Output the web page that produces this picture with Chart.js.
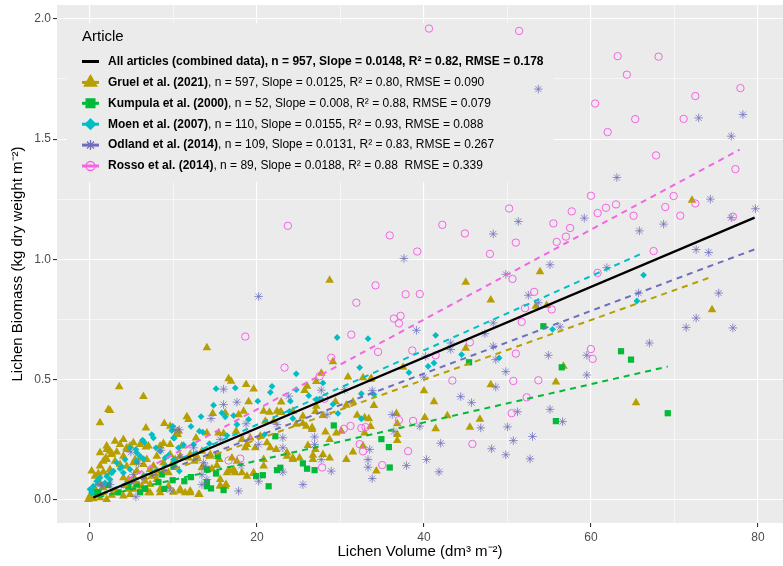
<!DOCTYPE html>
<html>
<head>
<meta charset="utf-8">
<title>Lichen volume vs biomass</title>
<script src="https://cdn.jsdelivr.net/npm/chart.js@4.4.1/dist/chart.umd.min.js"></script>
<style>
  html, body { margin: 0; padding: 0; background: #ffffff; }
  #wrap { width: 783px; height: 566px; }
</style>
</head>
<body>
<div id="wrap"><canvas id="chart-lichen" width="783" height="566"></canvas></div>
<script>

/*
  ==================================================
  ===================== DATOS ======================
  ==================================================
*/

// nombres y estadisticas de la leyenda
const articleNames = [
  'All articles (combined data)',
  'Gruel et al. (2021)',
  'Kumpula et al. (2000)',
  'Moen et al. (2007)',
  'Odland et al. (2014)',
  'Rosso et al. (2014)'
];
const articleStats = [
  ', n = 957, Slope = 0.0148, R\u00b2 = 0.82, RMSE = 0.178',
  ', n = 597, Slope = 0.0125, R\u00b2 = 0.80, RMSE = 0.090',
  ', n = 52, Slope = 0.008, R\u00b2 = 0.88, RMSE = 0.079',
  ', n = 110, Slope = 0.0155, R\u00b2 = 0.93, RMSE = 0.088',
  ', n = 109, Slope = 0.0131, R\u00b2 = 0.83, RMSE = 0.267',
  ', n = 89, Slope = 0.0188, R\u00b2 = 0.88  RMSE = 0.339'
];

const xTicks = [0, 20, 40, 60, 80];
const yTicks = [0.0, 0.5, 1.0, 1.5, 2.0];

// [volumen, biomasa]
const gruelPts = [
  [72.1,1.245],[74.5,0.79],[65.4,0.402],[53.9,0.948],[45.0,0.904],[48.0,0.83],[53.4,0.804],[54.7,0.807],
  [45.0,0.629],[56.7,0.554],[55.8,0.489],[48.0,0.477],[40.0,0.452],[41.2,0.407],[40.1,0.341],[42.8,0.348],
  [46.7,0.334],[41.4,0.294],[45.5,0.301],[28.7,0.912],[37.5,0.55],[30.9,0.51],[32.7,0.507],[33.7,0.503],
  [30.7,0.392],[31.5,0.406],[34.0,0.391],[32.0,0.35],[32.9,0.34],[33.4,0.336],[33.6,0.304],[32.9,0.277],
  [32.7,0.222],[31.5,0.198],[30.1,0.284],[36.7,0.358],[36.8,0.315],[36.8,0.27],[36.8,0.245],[34.3,0.118],
  [29.1,0.573],[27.7,0.525],[33.6,0.499],[26.0,0.471],[25.7,0.453],[27.1,0.491],[29.4,0.407],[27.0,0.366],
  [27.9,0.349],[22.9,0.406],[22.8,0.363],[25.5,0.316],[24.7,0.313],[26.6,0.299],[26.6,0.291],[28.2,0.281],
  [26.1,0.225],[27.0,0.208],[26.7,0.184],[28.7,0.173],[25.1,0.173],[23.6,0.194],[24.3,0.173],[14.0,0.631],
  [16.6,0.502],[16.9,0.492],[18.7,0.478],[19.6,0.46],[19.0,0.407],[11.6,0.344],[11.8,0.333],[14.7,0.358],
  [16.2,0.36],[17.8,0.353],[18.4,0.367],[20.8,0.367],[21.5,0.363],[22.4,0.367],[22.9,0.363],[21.0,0.326],
  [22.0,0.326],[10.6,0.284],[10.5,0.27],[12.7,0.256],[16.0,0.274],[17.5,0.284],[19.2,0.256],[18.8,0.229],
  [19.8,0.215],[21.2,0.236],[21.6,0.215],[22.3,0.208],[20.8,0.166],[17.0,0.173],[16.7,0.118],[17.4,0.111],
  [15.5,0.166],[15.6,0.055],[16.2,0.055],[13.0,0.021],[11.4,0.028],[12.0,0.035],[10.8,0.042],[13.4,0.132],
  [14.6,0.128],[15.2,0.141],[11.0,0.222],[11.8,0.173],[12.5,0.159],[17.6,0.159],[14.4,0.18],[19.6,0.108],
  [18.8,0.097],[3.5,0.469],[6.4,0.428],[2.2,0.374],[2.4,0.37],[1.2,0.319],[6.7,0.297],[8.9,0.316],
  [9.6,0.305],[3.6,0.229],[2.4,0.201],[2.6,0.191],[1.2,0.194],[2.0,0.166],[1.9,0.173],[0.2,0.118],
  [1.0,0.108],[1.6,0.114],[2.4,0.111],[3.2,0.198],[4.0,0.18],[4.4,0.215],[3.6,0.146],[4.4,0.138],
  [5.2,0.153],[6.0,0.173],[6.8,0.166],[5.6,0.118],[7.6,0.139],[8.0,0.18],[8.8,0.233],[9.6,0.229],
  [8.4,0.042],[9.4,0.055],[10.0,0.03],[7.0,0.028],[7.2,0.062],[4.0,0.014],[4.8,0.021],[0.0,0.014],
  [-0.2,0.0],[0.4,0.003],[1.2,0.007],[2.0,0.0],[0.2,0.021],[0.8,0.03],[0.6,0.044],[3.2,0.028],
  [2.6,0.018],[1.6,0.049],[1.2,0.067],[6.2,0.055],[6.6,0.076],[9.4,0.111],[8.8,0.118],[7.4,0.097],
  [5.3,0.09],[4.6,0.083],[7.2,0.028],[8.4,0.028],[10.8,0.035],[12.0,0.028],[13.1,0.021],[15.6,0.058],
  [16.3,0.062],[4.4,0.062],[5.2,0.042],[4.8,0.222],[6.7,0.218],[8.4,0.222],[10.4,0.277],[14.0,0.277],
  [15.4,0.277],[24.3,0.367],[25.5,0.346],[25.9,0.305],[27.1,0.388],[18.2,0.25],[18.6,0.215],[20.4,0.263],
  [13.4,0.201],[14.4,0.187],[12.0,0.187],[12.8,0.18],[10.2,0.166],[10.8,0.18],[17.2,0.125],[18.2,0.111],
  [15.6,0.083],[16.4,0.111],[19.6,0.111],[20.8,0.139],[23.6,0.18],[24.3,0.166],[26.7,0.166],[27.9,0.187],
  [28.7,0.25],[29.5,0.277],[30.7,0.166],[2.0,0.208],[2.6,0.187],[3.0,0.159],[1.6,0.159],[1.2,0.139],
  [0.6,0.097],[1.0,0.069],[4.0,0.09],[4.6,0.042],[6.4,0.097],[8.0,0.083],[7.2,0.125],[8.0,0.118],
  [6.4,0.146],[5.4,0.166],[4.4,0.208],[2.0,0.222],[3.0,0.242],[4.0,0.25],[5.2,0.236],[6.0,0.229],
  [7.0,0.222],[9.6,0.187],[10.0,0.159],[8.8,0.153],[2.4,0.125]
];

const kumpulaPts = [
  [63.6,0.617],[64.8,0.582],[69.2,0.359],[54.3,0.721],[45.4,0.571],[56.5,0.55],[55.8,0.326],[34.9,0.251],
  [35.8,0.218],[35.9,0.133],[29.2,0.308],[25.5,0.15],[26.0,0.128],[26.9,0.122],[22.8,0.132],[22.2,0.263],
  [15.3,0.18],[15.1,0.108],[14.0,0.125],[12.1,0.093],[11.3,0.076],[9.9,0.08],[14.0,0.072],[14.0,0.055],
  [14.5,0.046],[16.0,0.039],[19.9,0.097],[20.7,0.101],[21.4,0.055],[22.4,0.122],[8.9,0.044],[8.2,0.072],
  [6.6,0.044],[6.0,0.03],[5.6,0.062],[4.6,0.055],[3.4,0.03],[2.2,0.06],[1.0,0.028],[10.0,0.136],
  [8.6,0.104],[0.8,0.03]
];

const moenPts = [
  [66.3,0.934],[65.5,0.826],[41.4,0.683],[40.5,0.554],[41.2,0.568],[44.5,0.603],[49.0,0.589],[55.4,0.708],
  [33.3,0.669],[32.3,0.549],[38.2,0.528],[32.5,0.44],[34.0,0.437],[32.5,0.336],[29.6,0.674],[24.7,0.523],
  [27.9,0.485],[24.7,0.457],[24.0,0.409],[26.2,0.432],[27.1,0.416],[27.5,0.418],[27.7,0.418],[29.1,0.396],
  [29.7,0.358],[23.9,0.367],[24.3,0.337],[15.1,0.461],[17.4,0.464],[14.8,0.392],[13.3,0.345],[12.1,0.304],
  [15.8,0.36],[16.2,0.344],[17.2,0.349],[17.6,0.312],[20.1,0.409],[21.8,0.471],[21.6,0.446],[13.1,0.284],
  [13.5,0.28],[10.1,0.255],[11.2,0.227],[10.6,0.215],[12.4,0.229],[16.4,0.266],[14.3,0.232],[20.9,0.27],
  [10.0,0.166],[19.0,0.333],[10.7,0.118],[7.4,0.27],[7.6,0.256],[6.3,0.247],[6.5,0.238],[9.9,0.305],
  [9.8,0.287],[4.8,0.215],[5.5,0.208],[4.2,0.166],[5.6,0.159],[6.4,0.169],[7.9,0.215],[8.4,0.201],
  [9.0,0.173],[9.4,0.183],[10.0,0.256],[3.2,0.153],[3.6,0.128],[2.8,0.118],[2.6,0.111],[4.0,0.111],
  [4.8,0.125],[0.8,0.076],[1.2,0.09],[1.8,0.069],[0.0,0.042],[0.2,0.028],[0.4,0.055],[2.0,0.097],
  [2.4,0.083],[5.6,0.194],[6.0,0.18],[3.8,0.136]
];

const odlandPts = [
  [53.7,1.708],[72.9,1.588],[78.2,1.602],[76.8,1.512],[63.1,1.34],[74.3,1.25],[76.8,1.173],[79.7,1.21],
  [59.2,1.171],[65.8,1.118],[68.7,1.146],[51.3,1.157],[48.3,1.105],[37.6,1.003],[72.6,1.04],[74.1,1.028],
  [55.1,0.977],[49.8,0.937],[61.9,0.965],[52.5,0.85],[65.7,0.859],[75.3,0.859],[20.2,0.845],[53.7,0.819],
  [47.3,0.69],[43.2,0.651],[43.2,0.624],[48.3,0.638],[48.6,0.582],[40.2,0.596],[56.3,0.718],[54.9,0.6],
  [49.8,0.532],[48.6,0.468],[44.4,0.428],[45.7,0.403],[51.2,0.365],[55.1,0.375],[56.6,0.324],[39.5,0.305],
  [46.8,0.298],[50.0,0.302],[42.0,0.234],[50.7,0.245],[53.0,0.262],[48.1,0.211],[49.8,0.186],[52.7,0.169],
  [40.3,0.166],[41.8,0.115],[72.6,0.755],[71.4,0.716],[77.0,0.714],[67.0,0.651],[59.5,0.6],[59.5,0.518],
  [48.3,0.735],[39.1,0.704],[40.0,0.509],[33.8,0.453],[30.5,0.457],[36.2,0.353],[36.4,0.283],[33.5,0.208],
  [33.3,0.166],[33.3,0.134],[33.8,0.087],[37.9,0.141],[27.7,0.455],[27.7,0.166],[26.9,0.26],[26.9,0.229],
  [28.9,0.118],[25.5,0.062],[23.1,0.257],[23.1,0.215],[23.1,0.114],[23.8,0.43],[16.0,0.459],[16.0,0.395],
  [17.6,0.405],[14.5,0.337],[18.7,0.315],[10.7,0.29],[12.4,0.215],[18.1,0.141],[17.8,0.035],[20.2,0.076],
  [20.2,0.229],[13.4,0.103],[13.4,0.062],[13.6,0.153],[15.6,0.25],[10.8,0.176],[13.8,0.139],[4.9,0.197],
  [8.5,0.205],[5.8,0.15],[5.2,0.104],[5.5,0.011],[1.4,0.055],[2.4,0.062],[9.6,0.039],[10.2,0.291],
  [1.2,0.062],[22.4,0.312],[28.4,0.353],[14.0,0.083]
];

const rossoPts = [
  [40.6,1.96],[51.4,1.95],[63.2,1.845],[68.1,1.843],[64.3,1.768],[72.5,1.679],[77.9,1.712],[60.5,1.648],
  [65.3,1.583],[71.1,1.584],[62.0,1.529],[67.8,1.432],[77.3,1.375],[60.0,1.264],[69.9,1.263],[50.2,1.211],
  [61.8,1.214],[63.0,1.228],[60.8,1.192],[68.9,1.217],[57.7,1.199],[65.1,1.181],[70.7,1.181],[72.5,1.232],
  [77.0,1.177],[55.5,1.149],[57.5,1.13],[57.0,1.094],[55.9,1.072],[51.0,1.069],[47.9,1.022],[67.5,1.034],
  [42.2,1.143],[44.9,1.107],[35.9,1.099],[39.2,1.032],[34.2,0.891],[37.8,0.854],[39.5,0.855],[50.6,0.918],
  [53.2,0.864],[60.8,0.943],[23.7,1.139],[31.9,0.819],[36.4,0.753],[37.2,0.764],[37.0,0.733],[31.3,0.686],
  [34.5,0.614],[38.6,0.62],[28.9,0.59],[23.3,0.549],[27.5,0.513],[28.1,0.419],[30.4,0.294],[31.2,0.306],
  [32.5,0.297],[33.0,0.301],[37.0,0.33],[38.7,0.327],[32.3,0.23],[32.7,0.2],[38.1,0.201],[35.0,0.143],
  [27.8,0.133],[52.1,0.796],[55.3,0.791],[51.7,0.739],[45.5,0.654],[41.4,0.6],[51.0,0.607],[43.4,0.495],
  [50.7,0.493],[53.7,0.496],[52.3,0.425],[50.5,0.359],[45.8,0.231],[60.0,0.626],[60.2,0.585],[18.6,0.678],
  [16.6,0.162],[18.0,0.17],[18.8,0.26]
];

// rectas de regresion: [inicio, fin]
const fitAll     = [[0.4, 0.008], [79.6, 1.173]];
const fitGruel   = [[0.2, 0.003], [74.5, 0.927]];
const fitKumpula = [[1.0, 0.010], [69.2, 0.553]];
const fitMoen    = [[0.2, 0.005], [66.3, 1.027]];
const fitOdland  = [[1.2, 0.017], [79.6, 1.041]];
const fitRosso   = [[4.5, 0.085], [77.8, 1.456]];

/*
  ==================================================
  ==================== ESTILOS =====================
  ==================================================
*/

const colAll = '#000000';
const colGruel = '#B79F00';
const colKumpula = '#00BA38';
const colMoen = '#00BFC4';
const colOdland = '#6E6EBD';
const colRosso = '#F564E3';

const FONT = "'Liberation Sans', Arial, Helvetica, sans-serif";

const toXY = pts => pts.map(([x, y]) => ({ x, y }));

const pointSet = (label, pts, style, color, radius, order, extra = {}) => ({
  label,
  data: toXY(pts),
  pointStyle: style,
  pointRadius: radius,
  backgroundColor: color,
  borderColor: color,
  borderWidth: 0,
  order,
  ...extra
});

const fitSet = (label, pts, color, dashed) => ({
  label,
  data: toXY(pts),
  showLine: true,
  pointRadius: 0,
  borderColor: color,
  borderWidth: dashed ? 2 : 2.2,
  borderDash: dashed ? [6, 5] : [],
  fill: false,
  order: dashed ? 1 : 0
});

// quita el margen que Chart.js reserva para las etiquetas de los extremos
const fixedBox = size => scale => {
  if (scale.isHorizontal()) scale.height = size;
  else scale.width = size;
  scale.paddingTop = 0;
  scale.paddingBottom = 0;
  scale.paddingLeft = 0;
  scale.paddingRight = 0;
};

/*
  ==================================================
  ==================== PLUGINS =====================
  ==================================================
*/

let panelBg = {
  id: 'panelBg',
  beforeDraw(chart) {
    let { ctx, chartArea: a } = chart;
    ctx.save();
    ctx.fillStyle = '#EBEBEB';
    ctx.fillRect(a.left, a.top, a.right - a.left, a.bottom - a.top);
    ctx.restore();
  }
};

const legendKeys = [
  { color: colAll, style: null, r: 0 },
  { color: colGruel, style: 'triangle', r: 5.5 },
  { color: colKumpula, style: 'rect', r: 5 },
  { color: colMoen, style: 'rectRot', r: 4 },
  { color: colOdland, style: 'star', r: 5 },
  { color: colRosso, style: 'circle', r: 4.5, hollow: true }
];

let insideLegend = {
  id: 'insideLegend',
  beforeDatasetsDraw(chart) {
    let { ctx } = chart;
    ctx.save();
    ctx.fillStyle = '#EBEBEB';
    ctx.fillRect(67, 23, 487, 159);
    ctx.restore();
  },
  afterDatasetsDraw(chart) {
    let { ctx } = chart;
    ctx.save();
    ctx.textBaseline = 'middle';
    ctx.textAlign = 'left';
    ctx.fillStyle = '#000000';
    ctx.font = `15px ${FONT}`;
    ctx.fillText('Article', 82, 37);

    articleNames.forEach((name, i) => {
      let cy = 61.5 + i * 20.9;
      let key = legendKeys[i];

      ctx.strokeStyle = key.color;
      ctx.lineWidth = 3;
      ctx.setLineDash([]);
      ctx.beginPath();
      ctx.moveTo(82, cy);
      ctx.lineTo(99, cy);
      ctx.stroke();

      if (key.style) {
        ctx.fillStyle = key.hollow ? 'rgba(0,0,0,0)' : key.color;
        ctx.strokeStyle = key.color;
        ctx.lineWidth = key.hollow || key.style === 'star' ? 1.3 : 0;
        Chart.helpers.drawPoint(ctx, {
          pointStyle: key.style,
          radius: key.r,
          borderWidth: ctx.lineWidth,
          rotation: 0
        }, 90.5, cy);
      }

      ctx.fillStyle = '#000000';
      ctx.font = `bold 12px ${FONT}`;
      let x = 108;
      if (i === 0) {
        ctx.fillText(name + articleStats[i], x, cy);
      } else {
        ctx.fillText(name, x, cy);
        x += ctx.measureText(name).width;
        ctx.font = `12px ${FONT}`;
        ctx.fillText(articleStats[i], x, cy);
      }
    });
    ctx.restore();
  }
};

/*
  ==================================================
  ===================== GRAFICO ====================
  ==================================================
*/

let ctxLichen = document.getElementById('chart-lichen').getContext('2d');

const isMajor = (v, step) => Math.abs(v / step - Math.round(v / step)) < 1e-6;

let chartLichen = new Chart(ctxLichen, {
  type: 'scatter',
  data: {
    datasets: [
      fitSet('All articles', fitAll, colAll, false),
      fitSet('Gruel fit', fitGruel, colGruel, true),
      fitSet('Kumpula fit', fitKumpula, colKumpula, true),
      fitSet('Moen fit', fitMoen, colMoen, true),
      fitSet('Odland fit', fitOdland, colOdland, true),
      fitSet('Rosso fit', fitRosso, colRosso, true),
      pointSet(articleNames[1], gruelPts, 'triangle', colGruel, 5, 7),
      pointSet(articleNames[2], kumpulaPts, 'rect', colKumpula, 4.4, 6),
      pointSet(articleNames[3], moenPts, 'rectRot', colMoen, 3.4, 5),
      pointSet(articleNames[4], odlandPts, 'star', 'rgba(110,110,189,0.75)', 4.3, 4, { borderWidth: 1 }),
      pointSet(articleNames[5], rossoPts, 'circle', colRosso, 3.7, 3,
        { backgroundColor: 'rgba(0,0,0,0)', borderWidth: 1 })
    ]
  },
  options: {
    responsive: false,
    devicePixelRatio: 1,
    animation: false,
    events: [],
    layout: { autoPadding: false, padding: { top: 5, left: 0, right: 0, bottom: 0 } },
    plugins: {
      legend: { display: false },
      tooltip: { enabled: false }
    },
    scales: {
      x: {
        type: 'linear',
        min: -3.95,
        max: 83.0,
        afterFit: fixedBox(43),
        border: { display: false },
        grid: {
          color: '#FFFFFF',
          lineWidth: c => isMajor(c.tick.value, 20) ? 1.1 : 0.55,
          tickColor: c => isMajor(c.tick.value, 20) ? '#333333' : 'rgba(0,0,0,0)',
          tickWidth: 1.1,
          tickLength: 4
        },
        ticks: {
          stepSize: 10,
          includeBounds: false,
          autoSkip: false,
          maxRotation: 0,
          padding: 3,
          color: '#4D4D4D',
          font: { family: FONT, size: 12 },
          callback: v => xTicks.includes(v) ? String(v) : ''
        },
        title: {
          display: true,
          text: 'Lichen Volume (dm\u00b3 m\u207b\u00b2)',
          color: '#000000',
          font: { family: FONT, size: 15 },
          padding: { top: 0, bottom: 5 }
        }
      },
      y: {
        type: 'linear',
        min: -0.098,
        max: 2.058,
        afterFit: fixedBox(57),
        border: { display: false },
        grid: {
          color: '#FFFFFF',
          lineWidth: c => isMajor(c.tick.value, 0.5) ? 1.1 : 0.55,
          tickColor: c => isMajor(c.tick.value, 0.5) ? '#333333' : 'rgba(0,0,0,0)',
          tickWidth: 1.1,
          tickLength: 4
        },
        ticks: {
          stepSize: 0.25,
          includeBounds: false,
          autoSkip: false,
          padding: 2,
          color: '#4D4D4D',
          font: { family: FONT, size: 12 },
          callback: v => yTicks.some(t => Math.abs(t - v) < 1e-6) ? v.toFixed(1) : ''
        },
        title: {
          display: true,
          text: 'Lichen Biomass (kg dry weight m\u207b\u00b2)',
          color: '#000000',
          font: { family: FONT, size: 15 },
          padding: { top: 9, bottom: 0 }
        }
      }
    }
  },
  plugins: [panelBg, insideLegend]
});
</script>
</body>
</html>
